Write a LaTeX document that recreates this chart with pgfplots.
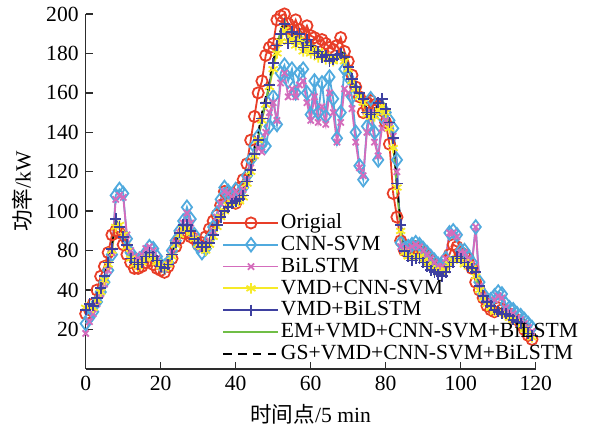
\documentclass[border=0pt]{standalone}
\usepackage{fontspec}
\setmainfont{Liberation Serif}
\newfontfamily\cjk{Noto Sans CJK SC}
\usepackage{pgfplots}
\usepackage{pgfplotstable}
\pgfplotsset{compat=1.18}
\definecolor{cO}{RGB}{232,62,40}
\definecolor{cC}{RGB}{80,170,222}
\definecolor{cB}{RGB}{212,108,188}
\definecolor{cVC}{RGB}{246,234,40}
\definecolor{cVB}{RGB}{62,64,160}
\definecolor{cEM}{RGB}{112,190,70}
\definecolor{axc}{RGB}{45,45,45}
\pgfplotstableread{
x O C B VC VB EM GS
0 48 43 38 51 50 50 49
1 50 46 44 52 53 51 51
2 53 49 48 51 52 52 53
3 60 54 53 55 56 56 57
4 67 59 58 59 61 60 61
5 72 64 63 65 67 67 68
6 79 70 70 73 74 75 76
7 88 78 79 80 81 82 83
8 90 108 106 92 96 95 94
9 89 111 108 93 92 92 93
10 83 109 107 88 87 88 87
11 78 86 88 82 83 84 83
12 74 79 80 76 76 77 77
13 71 76 77 73 74 74 74
14 71 75 76 72 73 74 73
15 72 76 78 74 74 75 75
16 74 79 81 76 77 77 76
17 75 82 82 77 79 78 78
18 73 81 80 76 77 77 77
19 71 77 76 74 75 75 74
20 70 73 72 72 72 73 72
21 69 72 71 71 71 72 72
22 72 74 73 73 73 74 74
23 76 80 79 77 78 79 78
24 82 85 84 83 84 84 84
25 86 90 89 88 89 89 88
26 89 95 94 91 93 93 92
27 89 102 99 91 93 92 92
28 87 96 94 89 90 90 89
29 86 88 87 86 86 87 87
30 83 82 83 83 84 84 84
31 84 79 81 82 82 83 82
32 87 81 82 80 82 81 82
33 91 86 85 83 84 84 85
34 95 92 90 87 88 88 89
35 98 99 97 92 93 93 94
36 103 106 104 97 97 98 99
37 110 112 110 100 100 101 102
38 108 110 109 103 102 104 104
39 106 108 107 104 104 106 105
40 104 111 110 104 105 106 107
41 112 109 108 105 106 107 108
42 116 112 111 107 108 109 110
43 124 118 116 114 115 116 117
44 136 126 122 120 121 122 124
45 148 133 128 128 129 130 132
46 160 138 132 136 136 137 140
47 166 134 130 146 147 148 150
48 179 133 140 154 155 156 158
49 183 143 150 163 164 165 167
50 185 158 155 172 175 174 176
51 197 144 146 180 184 185 186
52 199 170 165 186 190 191 192
53 200 174 170 192 195 197 196
54 195 166 158 186 185 189 190
55 192 172 162 188 191 193 192
56 197 160 158 184 186 188 189
57 192 170 164 187 190 191 190
58 190 172 166 181 183 186 187
59 194 160 155 184 187 188 188
60 189 149 146 180 184 185 184
61 188 166 158 182 180 184 183
62 186 150 145 178 181 182 182
63 187 165 153 180 178 181 180
64 185 148 144 177 179 180 179
65 183 168 160 178 176 179 179
66 182 157 150 176 177 178 177
67 184 137 135 178 179 180 180
68 188 150 145 179 180 181 182
69 181 172 162 176 178 180 179
70 176 168 160 172 173 173 174
71 169 158 152 166 167 169 168
72 163 140 135 162 163 164 165
73 158 123 122 158 160 160 159
74 150 116 118 155 157 158 156
75 155 143 140 149 150 151 152
76 156 157 150 148 149 150 150
77 154 140 135 148 150 149 150
78 153 126 128 151 155 153 154
79 151 148 142 153 157 156 155
80 145 150 146 150 152 153 152
81 134 146 143 142 145 144 145
82 109 142 138 132 137 134 136
83 97 126 120 112 114 111 113
84 85 84 82 90 93 92 94
85 80 81 80 79 80 82 83
86 79 82 81 77 77 80 81
87 81 83 82 76 75 79 80
88 82 84 83 77 76 80 81
89 81 83 82 77 76 80 80
90 79 81 80 75 74 78 78
91 77 79 78 73 72 76 77
92 75 77 76 71 70 74 75
93 73 75 74 70 69 72 73
94 71 73 72 69 68 71 71
95 72 72 72 68 67 70 71
96 75 76 76 70 69 72 73
97 78 89 89 73 72 75 75
98 83 90 89 75 74 77 78
99 82 88 87 76 77 79 79
100 79 80 79 75 76 77 78
101 78 80 79 73 74 76 77
102 76 77 76 73 72 75 75
103 71 74 73 71 71 73 72
104 64 92 92 67 69 68 67
105 60 64 62 60 62 60 61
106 56 58 57 56 57 57 57
107 52 55 54 53 54 54 54
108 50 55 53 51 52 52 53
109 49 57 55 49 50 51 51
110 51 59 57 49 49 50 51
111 50 58 56 48 48 50 50
112 49 53 51 47 48 49 49
113 48 51 49 46 47 48 48
114 46 50 48 45 45 47 46
115 45 48 46 44 44 45 45
116 43 47 45 42 43 44 44
117 40 45 43 40 41 42 41
118 37 43 41 38 38 39 39
119 35 41 39 36 37 37 37
}\datatable
\begin{document}
\begin{tikzpicture}
\begin{axis}[
  scale only axis, width=225pt, height=177.5pt,
  xmin=0, xmax=120, ymin=20, ymax=200,
  axis x line*=bottom, axis y line*=left,
  axis line style={axc, line width=0.75pt},
  every tick/.style={axc, line width=0.7pt},
  tick align=inside, major tick length=3.5pt,
  xtick={0,20,...,120},
  ytick={40,60,80,100,120,140,160,180,200},
  yticklabels={20,40,80,100,120,140,160,180,200},
  /pgf/number format/assume math mode=true,
  ticklabel style={font=\fontsize{10.8}{12}\selectfont},
  label style={font=\fontsize{10.8}{12}\selectfont},
  xlabel={{\cjk 时间点}/5 min},
  ylabel={{\cjk 功率}/kW},
  clip=false,
  every axis plot/.append style={line width=0.9pt},
  legend image code/.code={\draw[mark repeat=2,mark phase=2,#1] plot coordinates {(0pt,0pt)(13.75pt,0pt)(27.5pt,0pt)};},
  legend style={draw=none, fill=none, at={(axis cs:36.4,99.6)}, anchor=north west,
    inner xsep=0pt, inner ysep=0pt, row sep=0.3pt,
    font=\fontsize{10.8}{12}\selectfont,
    nodes={inner sep=0.8pt, text height=7.4pt, text depth=1.6pt},
    cells={anchor=west}},
  legend cell align=left,
]
\addplot[color=cO, mark=o, mark size=2.8pt] table[x=x,y=O]{\datatable};
\addlegendentry{Origial}
\addplot[color=cC, mark=diamond, mark size=3.4pt] table[x=x,y=C]{\datatable};
\addlegendentry{CNN-SVM}
\addplot[color=cB, mark=x, mark size=2.2pt] table[x=x,y=B]{\datatable};
\addlegendentry{BiLSTM}
\addplot[color=cVC, mark=asterisk, mark size=2.6pt] table[x=x,y=VC]{\datatable};
\addlegendentry{VMD+CNN-SVM}
\addplot[color=cVB, mark=+, mark size=2.8pt] table[x=x,y=VB]{\datatable};
\addlegendentry{VMD+BiLSTM}
\addplot[color=cEM, no marks] table[x=x,y=EM]{\datatable};
\addlegendentry{EM+VMD+CNN-SVM+BiLSTM}
\addplot[color=black, dash pattern=on 4.2pt off 3.2pt, no marks, line width=0.8pt] table[x=x,y=GS]{\datatable};
\addlegendentry{GS+VMD+CNN-SVM+BiLSTM}
\end{axis}
\path ([shift={(-42.85pt,-27.5pt)}]current axis.south west) rectangle ([shift={(26.65pt,6.5pt)}]current axis.north east);
\end{tikzpicture}
\end{document}
